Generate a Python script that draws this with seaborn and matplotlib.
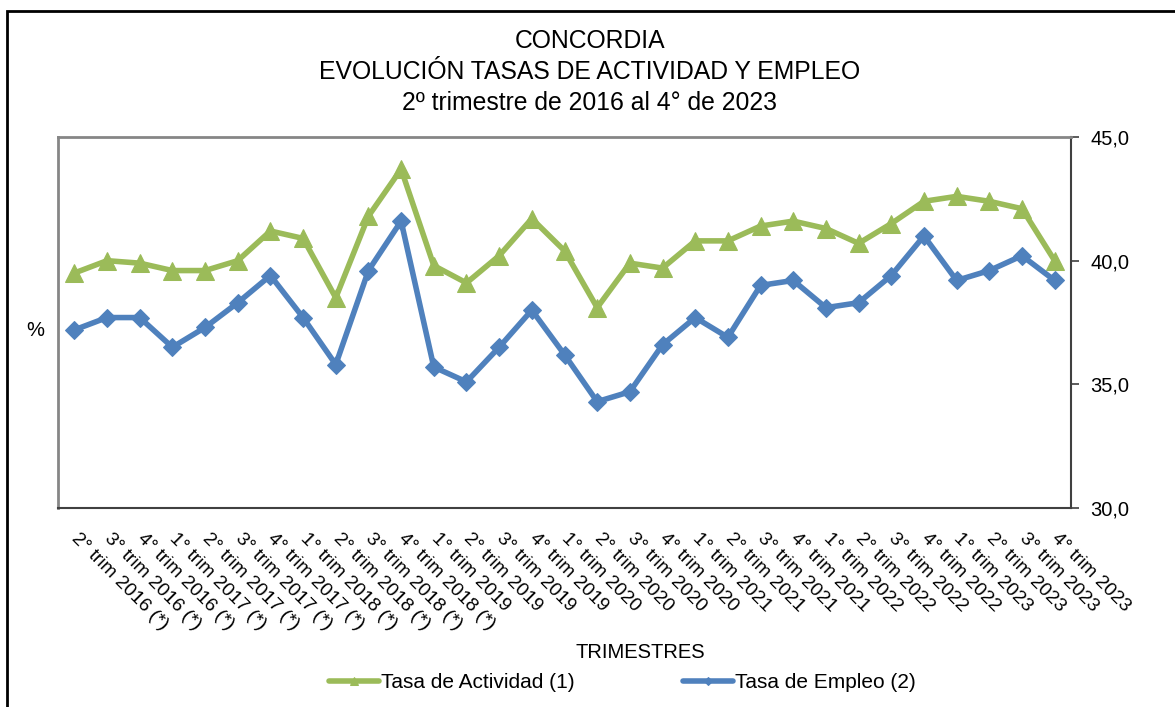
import pandas as pd
import numpy as np
import seaborn as sns
import matplotlib.pyplot as plt
from matplotlib.patches import Rectangle
from matplotlib.transforms import ScaledTranslation

# quarters from 2nd 2016 to 4th 2023
trimestres = [
    "2° trim 2016 (*)", "3° trim 2016 (*)", "4° trim 2016 (*)",
    "1° trim 2017 (*)", "2° trim 2017 (*)", "3° trim 2017 (*)", "4° trim 2017 (*)",
    "1° trim 2018 (*)", "2° trim 2018 (*)", "3° trim 2018 (*)", "4° trim 2018 (*)",
    "1° trim 2019", "2° trim 2019", "3° trim 2019", "4° trim 2019",
    "1° trim 2020", "2° trim 2020", "3° trim 2020", "4° trim 2020",
    "1° trim 2021", "2° trim 2021", "3° trim 2021", "4° trim 2021",
    "1° trim 2022", "2° trim 2022", "3° trim 2022", "4° trim 2022",
    "1° trim 2023", "2° trim 2023", "3° trim 2023", "4° trim 2023",
]
actividad = [39.5, 40.0, 39.9, 39.6, 39.6, 40.0, 41.2, 40.9, 38.5, 41.8, 43.7,
             39.8, 39.1, 40.2, 41.7, 40.4, 38.1, 39.9, 39.7, 40.8, 40.8, 41.4,
             41.6, 41.3, 40.7, 41.5, 42.4, 42.6, 42.4, 42.1, 40.0]
empleo = [37.2, 37.7, 37.7, 36.5, 37.3, 38.3, 39.4, 37.7, 35.8, 39.6, 41.6,
          35.7, 35.1, 36.5, 38.0, 36.2, 34.3, 34.7, 36.6, 37.7, 36.9, 39.0,
          39.2, 38.1, 38.3, 39.4, 41.0, 39.2, 39.6, 40.2, 39.2]
y_ticks = [30, 35, 40, 45]
y_labels = ["30,0", "35,0", "40,0", "45,0"]

verde = "#9BBB59"
azul = "#4F81BD"

sns.set_style("white")
plt.rcParams['font.family'] = ['Liberation Sans', 'DejaVu Sans']
plt.rcParams['text.color'] = 'black'
plt.rcParams['xtick.color'] = 'black'
plt.rcParams['ytick.color'] = 'black'

df = pd.DataFrame({"trim": trimestres, "act": actividad, "emp": empleo})
df["pos"] = np.arange(len(df))

fig = plt.figure(figsize=(11.75, 7.07), dpi=100)
ax = fig.add_axes([58/1175, 1 - 508/707, (1071-58)/1175, (508-137)/707])

sns.lineplot(data=df, x="pos", y="act", ax=ax, color=verde, lw=4, marker="^",
             markersize=13, markeredgecolor=verde, label="Tasa de Actividad (1)")
sns.lineplot(data=df, x="pos", y="emp", ax=ax, color=azul, lw=4, marker="D",
             markersize=9.5, markeredgecolor=azul, label="Tasa de Empleo (2)")

ax.set_xlim(-0.5, len(trimestres) - 0.5)
ax.set_ylim(30, 45)
ax.yaxis.tick_right()
ax.set_yticks(y_ticks)
ax.set_yticklabels(y_labels, fontsize=14.5)
ax.tick_params(axis="y", direction="out", length=6, width=1.2, color="#404040", pad=8)

ax.set_xticks(df["pos"])
ax.set_xticklabels(trimestres, rotation=-45, ha="left", va="top",
                   rotation_mode="anchor", fontsize=13.8)
ax.set_xticks(np.arange(-0.5, len(trimestres)), minor=True)
ax.tick_params(axis="x", which="major", length=0, pad=16)
ax.tick_params(axis="x", which="minor", direction="out", length=6, width=1.2, color="#404040")
for lbl in ax.get_xticklabels():
    lbl.set_transform(lbl.get_transform() + ScaledTranslation(0.06, 0, fig.dpi_scale_trans))

ax.set_xlabel("")
ax.set_ylabel("")
for s in ["left", "top"]:
    ax.spines[s].set_color("#868686")
    ax.spines[s].set_linewidth(2)
for s in ["bottom", "right"]:
    ax.spines[s].set_color("#404040")
    ax.spines[s].set_linewidth(1.5)

fig.text(590/1175, 1 - 29/707, "CONCORDIA\nEVOLUCIÓN TASAS DE ACTIVIDAD Y EMPLEO\n2º trimestre de 2016 al 4° de 2023",
         ha="center", va="top", fontsize=17.8, linespacing=1.38)
fig.text(35/1175, 1 - 330/707, "%", ha="center", va="center", fontsize=14.5)
fig.text(640/1175, 1 - 653/707, "TRIMESTRES", ha="center", va="center", fontsize=14.5)

ax.legend(loc="center", bbox_to_anchor=(622/1175, 1 - 683/707), bbox_transform=fig.transFigure,
          ncol=2, frameon=False, fontsize=15, handlelength=2.4, columnspacing=5.2,
          handletextpad=0.1, markerscale=0.4)

fig.patches.append(Rectangle((7/1175, -0.1), 1.2, 1 - 11/707 + 0.1, transform=fig.transFigure,
                             fill=False, edgecolor="black", lw=2))

fig.savefig("out.png", dpi=100)
